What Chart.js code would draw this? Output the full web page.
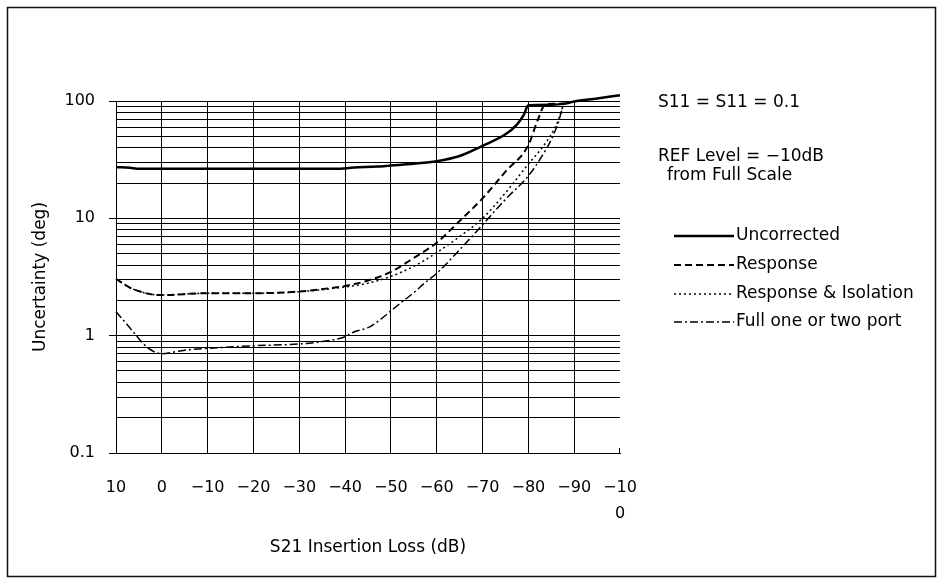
<!DOCTYPE html>
<html><head><meta charset="utf-8">
<script src="https://cdn.jsdelivr.net/npm/chart.js@4/dist/chart.umd.min.js"></script>
<style>html,body{margin:0;padding:0;background:#fff}#wrap{width:941px;height:581px;position:relative}</style>
</head><body><div id="wrap"><canvas id="c"></canvas></div>
<script>
// ---------- data ----------
const xTickValues = [10, 0, -10, -20, -30, -40, -50, -60, -70, -80, -90, -100];
const yMajorTicks = [0.1, 1, 10, 100];
const yMajorLabels = ['0.1', '1', '10', '100'];

const uncorrectedLoss = [10, 7, 5, -38, -42, -47, -50, -55, -60, -65, -70, -75, -77.5, -79, -80, -85, -88, -90, -95, -100];
const uncorrectedDeg  = [27.3, 27.0, 26.4, 26.4, 27.1, 27.6, 28.2, 29.2, 30.7, 34, 41.5, 52, 63, 76, 92, 93, 95, 99, 105, 112];

const responseLoss = [10, 7, 4, 2, 0, -10, -20, -30, -37, -40, -45, -50, -55, -60, -65, -70, -75, -80, -82, -83.8, -88];
const responseDeg  = [3.05, 2.57, 2.33, 2.24, 2.22, 2.3, 2.3, 2.38, 2.55, 2.65, 2.95, 3.5, 4.6, 6.2, 9.5, 14.8, 25, 42, 68, 94, 95];

const risLoss = [10, 7, 4, 2, 0, -10, -20, -30, -40, -45, -50, -55, -60, -65, -70, -75, -80, -83, -85, -86.5, -87.7, -88];
const risDeg  = [3.05, 2.57, 2.33, 2.24, 2.22, 2.3, 2.3, 2.37, 2.6, 2.8, 3.2, 3.9, 5.1, 7, 10, 16.5, 29, 40, 52, 68, 93, 95];

const fullLoss = [10, 8, 6, 4, 2, 0, -3, -6, -10, -20, -30, -35, -40, -42, -45, -48, -50, -52, -55, -57.5, -60, -65, -70, -75, -80, -83, -85, -86.5, -87.7, -88];
const fullDeg  = [1.6, 1.3, 1.05, 0.85, 0.74, 0.7, 0.73, 0.76, 0.78, 0.82, 0.85, 0.89, 0.98, 1.08, 1.17, 1.4, 1.63, 1.88, 2.33, 2.84, 3.4, 5.4, 8.8, 14.5, 23, 34, 47, 65, 93, 95];

const seriesNames = ['Uncorrected', 'Response', 'Response & Isolation', 'Full one or two port'];
const noteLines = ['S11 = S11 = 0.1', 'REF Level = \u221210dB', '  from Full Scale'];

// ---------- helpers ----------
const FONT = "'DejaVu Sans', sans-serif";
const pts = (xs, ys) => xs.map((x, i) => ({x: x, y: ys[i]}));
const fmtX = v => {
  if (v === -100) return ['\u221210', '0'];
  return v < 0 ? '\u2212' + Math.abs(v) : String(v);
};
const minorMult = [1, 2, 3, 4, 5, 6, 7, 8, 9];
const yGridValues = [];
[0.1, 1, 10].forEach(d => minorMult.forEach(m => yGridValues.push(+(m * d).toPrecision(3))));
yGridValues.push(100);

const styles = [
  {borderWidth: 2.5, borderDash: []},
  {borderWidth: 2, borderDash: [7, 4]},
  {borderWidth: 1.5, borderDash: [2, 3]},
  {borderWidth: 1.5, borderDash: [8, 3, 2, 3]}
];
const dataSets = [
  pts(uncorrectedLoss, uncorrectedDeg),
  pts(responseLoss, responseDeg),
  pts(risLoss, risDeg),
  pts(fullLoss, fullDeg)
];

const decor = {
  id: 'decor',
  afterDraw(chart) {
    const ctx = chart.ctx;
    ctx.save();
    // outer frame
    ctx.strokeStyle = '#111';
    ctx.lineWidth = 1.5;
    ctx.strokeRect(7.5, 7.5, 928, 569);
    // small tick at right end of x axis
    const a = chart.chartArea;
    ctx.lineWidth = 1;
    ctx.strokeStyle = '#000';
    ctx.beginPath();
    ctx.moveTo(a.right - 0.5, a.bottom);
    ctx.lineTo(a.right - 0.5, a.bottom - 5);
    ctx.stroke();
    // notes
    ctx.fillStyle = '#000';
    ctx.font = '17px ' + FONT;
    ctx.textAlign = 'left';
    ctx.textBaseline = 'middle';
    ctx.fillText(noteLines[0], 658, 103);
    ctx.fillText(noteLines[1], 658, 157);
    ctx.fillText(noteLines[2].trim(), 667, 176);
    // legend
    const rowsY = [236, 265, 294, 322];
    chart.data.datasets.forEach((ds, i) => {
      const y = rowsY[i];
      ctx.save();
      ctx.strokeStyle = '#000';
      ctx.lineWidth = ds.borderWidth;
      ctx.setLineDash(ds.borderDash);
      ctx.beginPath();
      ctx.moveTo(674, y);
      ctx.lineTo(734, y);
      ctx.stroke();
      ctx.restore();
      ctx.fillText(ds.label, 736, y);
    });
    ctx.restore();
  }
};

new Chart(document.getElementById('c'), {
  type: 'line',
  data: {
    datasets: dataSets.map((d, i) => ({
      label: seriesNames[i],
      data: d,
      borderColor: '#000',
      backgroundColor: '#000',
      borderWidth: styles[i].borderWidth,
      borderDash: styles[i].borderDash,
      pointRadius: 0,
      fill: false,
      cubicInterpolationMode: 'monotone',
      clip: false
    }))
  },
  options: {
    responsive: true,
    maintainAspectRatio: false,
    animation: false,
    layout: {padding: {top: 101, right: 321, left: 0, bottom: 0}},
    plugins: {legend: {display: false}, tooltip: {enabled: false}},
    scales: {
      x: {
        type: 'linear',
        min: -100, max: 10,
        reverse: true,
        afterBuildTicks: s => { s.ticks = xTickValues.map(v => ({value: v})); },
        afterFit: s => { s.height = 128; },
        ticks: {
          autoSkip: false, maxRotation: 0, padding: 22,
          color: '#000',
          font: {family: FONT, size: 16, lineHeight: 1.6},
          callback: v => fmtX(v)
        },
        grid: {
          drawTicks: false,
          color: c => (c.tick && c.tick.value === -100) ? 'rgba(0,0,0,0)' : '#000',
          lineWidth: 1
        },
        border: {display: true, color: '#000', width: 1},
        title: {
          display: true, text: 'S21 Insertion Loss (dB)', color: '#000',
          font: {family: FONT, size: 17}, padding: {top: 0, bottom: 23}
        }
      },
      y: {
        type: 'logarithmic',
        min: 0.1, max: 100,
        afterBuildTicks: s => { s.ticks = yGridValues.map(v => ({value: v})); },
        afterFit: s => { s.width = 116; },
        ticks: {
          autoSkip: false, padding: 14, color: '#000',
          font: {family: FONT, size: 16},
          callback: v => {
            const k = yMajorTicks.findIndex(m => Math.abs(m - v) < 1e-9);
            return k >= 0 ? yMajorLabels[k] : '';
          }
        },
        grid: {
          color: '#000', lineWidth: 1, tickLength: 7,
          tickColor: c => (c.tick && yMajorTicks.some(m => Math.abs(m - c.tick.value) < 1e-9)) ? '#000' : 'rgba(0,0,0,0)'
        },
        border: {display: true, color: '#000', width: 1},
        title: {
          display: true, text: 'Uncertainty (deg)', color: '#000',
          font: {family: FONT, size: 17}, padding: {top: 30, bottom: 0}
        }
      }
    }
  },
  plugins: [decor]
});
</script>
</body></html>
